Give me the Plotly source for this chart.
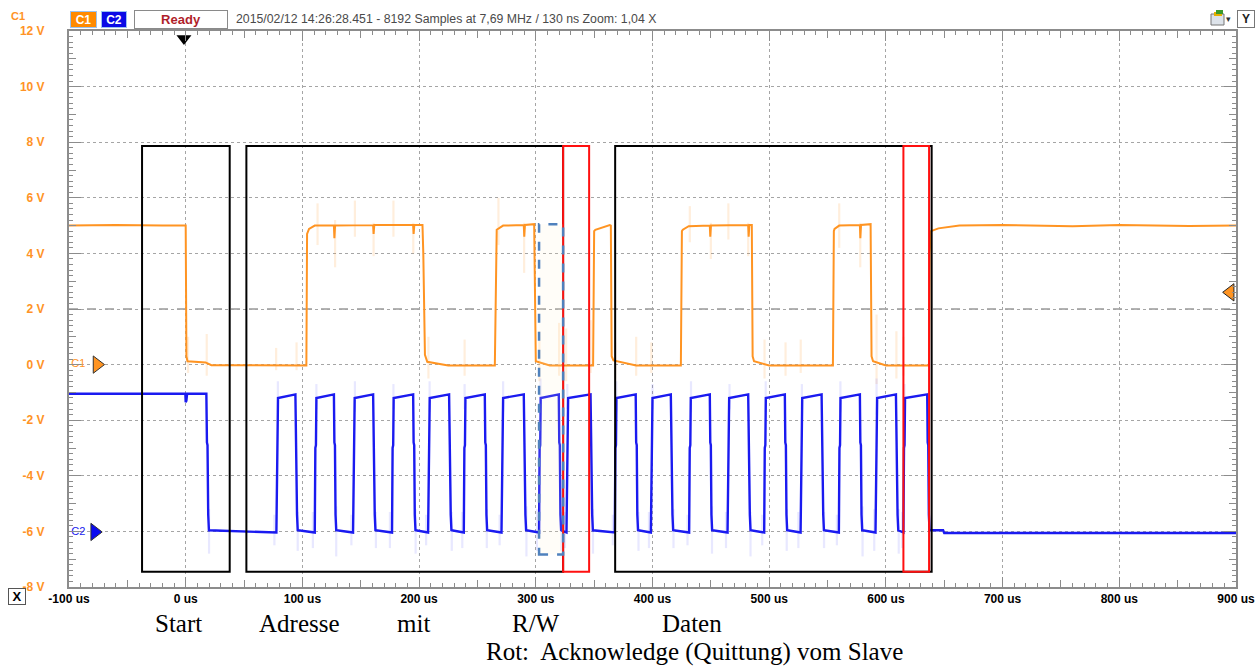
import plotly.graph_objects as go

# ---------------- data ----------------
# Channel C1 (orange, SDA) : time [us] / voltage [V]
c1_t = [-100, -60, -20, 0.0, 0.6, 1.5, 17, 22, 103.4, 104.0, 105.7, 110.6,
        127.0, 127.4, 128.0, 160.6, 161.0, 161.6, 194.9, 195.3, 195.9, 202.9,
        203.6, 205.0, 207, 225, 264.9, 265.8, 266.5, 272, 289.7, 290.1, 290.7,
        298.6, 299.2, 300, 312, 349.1, 350.0, 351, 363.4, 364.3, 365.0, 366.5,
        386, 424.3, 425.2, 426, 431, 449.1, 449.5, 450.1, 482, 482.4, 483,
        485.1, 485.8, 487, 500, 554.6, 555.4, 556, 560, 577.7, 578.1, 578.7,
        586.9, 587.7, 589, 600, 636.9, 637.5, 638.6, 645, 663, 700, 760, 800,
        860, 900]
c1_v = [5.0, 5.02, 5.0, 5.0, 0.3, 0.12, 0.08, -0.02, -0.03, 4.7, 4.88, 5.0,
        5.0, 4.55, 5.0, 5.02, 4.7, 5.02, 5.02, 4.7, 5.02, 5.02,
        4.0, 0.35, 0.1, -0.03, -0.03, 2.0, 4.85, 5.0, 5.02, 4.6, 5.02,
        5.05, 1.3, 0.12, -0.03, -0.03, 4.8, 4.85, 5.02, 5.0, 0.3, 0.15,
        -0.03, -0.03, 4.8, 4.85, 4.98, 5.0, 4.6, 5.0, 5.02, 4.6, 5.02,
        5.02, 0.3, 0.12, -0.03, -0.03, 4.8, 4.88, 5.0, 5.02, 4.55, 5.02,
        5.05, 0.3, 0.12, -0.03, -0.03, 4.0, 4.8, 4.9, 5.0, 5.02, 4.98, 5.02,
        4.99, 5.0]

# faint glitches on C1: time, lowest, highest
c1_gl_t = [2, 18, 77.5, 95, 113, 128, 145, 161, 178, 195, 208, 239, 268, 290,
           303, 320, 326, 347, 368, 386, 399, 432, 450, 465, 482, 496, 514,
           527, 560, 578, 592, 609, 615]
c1_gl_lo = [-0.3, -0.4, -0.2, -0.2, 4.3, 3.5, 4.6, 3.9, 4.6, 4.0, -0.5, -0.4,
            4.3, 3.3, -0.6, -0.4, -0.6, -0.3, -0.5, -0.4, -0.3, 4.4, 3.8, 4.5,
            3.9, -0.5, -0.4, -0.3, 4.2, 3.5, -0.7, -0.5, -0.4]
c1_gl_hi = [1.0, 1.1, 0.6, 0.8, 5.8, 5.2, 5.9, 5.1, 5.9, 5.1, 1.0, 0.9,
            6.0, 5.1, 1.2, 1.5, 1.3, 1.6, 0.8, 1.0, 0.8, 5.7, 5.1, 5.8,
            5.1, 0.9, 0.8, 0.9, 5.8, 5.1, 1.8, 1.2, 1.0]

# Channel C2 (blue, SCL): edge times [us]
c2_rise = [77.7, 110.6, 143.4, 176.8, 207.7, 238.3, 270.6, 302.8, 326.3,
           367.7, 398.6, 431.4, 464.3, 495.7, 526.9, 559.7, 591.1, 615.0]
c2_fall = [94.0, 127.0, 160.6, 194.9, 225.7, 256.3, 289.7, 319.7, 346.9,
           385.6, 415.7, 449.1, 482.0, 513.4, 544.9, 577.7, 608.6, 635.4]
c2_first_fall = 17.7
c2_idle_high = -1.05
c2_high_start = -1.2
c2_high_end = -1.07
c2_low_start = -5.96
c2_low_end = -6.04

# faint glitches on C2
c2_gl_t = [20, 96, 129, 163, 197, 228, 258, 292, 322, 349, 388, 418, 451, 484,
           515, 547, 580, 611, 637, 76, 109, 142, 175, 206, 237, 269, 301, 325,
           366, 397, 430, 463, 494, 525, 558, 590, 614,
           79, 112, 145, 178, 209, 239, 272, 304, 327, 369, 400, 433, 466, 497,
           528, 561, 592, 616]
c2_gl_lo = [-6.8, -6.7, -6.9, -6.6, -6.8, -6.7, -6.6, -6.9, -6.7, -6.8, -6.7,
            -6.6, -6.8, -6.9, -6.7, -6.6, -6.9, -6.8, -6.6, -6.5, -6.6, -6.5,
            -6.6, -6.5, -6.6, -6.5, -6.7, -6.6, -6.5, -6.6, -6.5, -6.6, -6.5,
            -6.6, -6.5, -6.7, -6.6,
            -1.7, -1.6, -1.7, -1.6, -1.7, -1.6, -1.7, -1.8, -1.6, -1.7, -1.6,
            -1.7, -1.6, -1.7, -1.6, -1.7, -1.8, -1.6]
c2_gl_hi = [-5.2, -5.3, -5.1, -5.3, -5.2, -5.3, -5.2, -5.1, -5.3, -5.2, -5.3,
            -5.2, -5.1, -5.3, -5.2, -5.3, -5.1, -5.2, -5.4, -5.4, -5.3, -5.4,
            -5.3, -5.4, -5.3, -5.4, -5.2, -5.3, -5.4, -5.3, -5.4, -5.3, -5.4,
            -5.3, -5.4, -5.2, -5.3,
            -0.6, -0.7, -0.6, -0.7, -0.6, -0.7, -0.6, -0.5, -0.7, -0.6, -0.7,
            -0.6, -0.7, -0.6, -0.7, -0.6, -0.5, -0.7]

# axis ticks
x_ticks = [-100, 0, 100, 200, 300, 400, 500, 600, 700, 800, 900]
x_labels = ["-100 us", "0 us", "100 us", "200 us", "300 us", "400 us",
            "500 us", "600 us", "700 us", "800 us", "900 us"]
y_ticks = [-8, -6, -4, -2, 0, 2, 4, 6, 8, 10, 12]
y_labels = ["-8 V", "-6 V", "-4 V", "-2 V", "0 V", "2 V", "4 V", "6 V",
            "8 V", "10 V", "12 V"]

# annotation boxes (us, V)
box_x0 = [-37.4, 52.0, 368.0, 323.4, 615.0]
box_x1 = [37.7, 323.4, 639.2, 345.7, 637.0]
box_col = ["black", "black", "black", "#FF1010", "#FF1010"]
box_y0, box_y1 = -7.45, 7.86
rw_box = [302.8, 323.4, -6.83, 5.05]

labels_row1 = ["Start", "Adresse", "mit", "R/W", "Daten"]
labels_row1_px = [178, 299.5, 413, 535.5, 692]
label_row2 = "Rot:  Acknowledge (Quittung) vom Slave"

# ---------------- build C2 waveform vertices from edges ----------------
c2_t = [-100, -0.3, 0.0, 0.6, 1.2, c2_first_fall,
        c2_first_fall + 0.5, c2_first_fall + 1.0, c2_first_fall + 1.6,
        c2_first_fall + 2.2]
c2_v = [c2_idle_high, c2_idle_high, -1.35, -1.3, c2_idle_high, c2_idle_high,
        -2.8, -2.9, -5.4, c2_low_start]
for r, f in zip(c2_rise, c2_fall):
    c2_t += [r, r + 0.5, r + 1.0, r + 1.4, f, f + 0.4, f + 0.9, f + 1.4, f + 2.0]
    c2_v += [c2_low_end, -3.0, -2.9, c2_high_start, c2_high_end, -2.8, -2.9,
             -5.4, c2_low_start]
c2_t += [649, 650, 900]
c2_v += [c2_low_start, -6.06, -6.06]


def seg(ts, lo, hi):
    xs, ys = [], []
    for t, a, b in zip(ts, lo, hi):
        xs += [t, t, None]
        ys += [a, b, None]
    return xs, ys


ORANGE = "#FF9422"
BLUE = "#1A1AF0"
LABEL_OR = "#FF9326"

fig = go.Figure()

gx, gy = seg(c1_gl_t, c1_gl_lo, c1_gl_hi)
fig.add_trace(go.Scatter(x=gx, y=gy, mode="lines",
                         line=dict(color="rgba(255,160,60,0.18)", width=2.2),
                         hoverinfo="skip", showlegend=False))
gx, gy = seg(c2_gl_t, c2_gl_lo, c2_gl_hi)
fig.add_trace(go.Scatter(x=gx, y=gy, mode="lines",
                         line=dict(color="rgba(110,110,255,0.16)", width=2.2),
                         hoverinfo="skip", showlegend=False))

fig.add_trace(go.Scatter(x=c1_t, y=c1_v, mode="lines",
                         line=dict(color=ORANGE, width=2), showlegend=False))
fig.add_trace(go.Scatter(x=c2_t, y=c2_v, mode="lines",
                         line=dict(color=BLUE, width=2.4), showlegend=False))

# channel / trigger markers
fig.add_trace(go.Scatter(x=[-76], y=[0], mode="markers",
                         marker=dict(symbol="triangle-right", size=15, color=ORANGE,
                                     line=dict(color="#333", width=1)),
                         cliponaxis=False, showlegend=False))
fig.add_trace(go.Scatter(x=[-78], y=[-6.02], mode="markers",
                         marker=dict(symbol="triangle-right", size=15, color="#0A0AF0",
                                     line=dict(color="#333", width=1)),
                         cliponaxis=False, showlegend=False))
fig.add_trace(go.Scatter(x=[895], y=[2.6], mode="markers",
                         marker=dict(symbol="triangle-left", size=15, color=ORANGE,
                                     line=dict(color="#222", width=1)),
                         cliponaxis=False, showlegend=False))
fig.add_trace(go.Scatter(x=[-1.5], y=[11.73], mode="markers",
                         marker=dict(symbol="triangle-down", size=13, color="black"),
                         cliponaxis=False, showlegend=False))
fig.add_trace(go.Scatter(x=[-92, -92], y=[0, -6.02], mode="text",
                         text=["C1", "C2"],
                         textfont=dict(color=[LABEL_OR, BLUE], size=11,
                                       family="Liberation Sans"),
                         cliponaxis=False, showlegend=False))
# dummy trace for overlay (medium tick) axes
fig.add_trace(go.Scatter(x=[None], y=[None], xaxis="x2", yaxis="y2",
                         showlegend=False, hoverinfo="skip"))

shapes = []
shapes.append(dict(type="line", xref="x", yref="y", x0=-100, x1=900, y0=2, y1=2,
                   line=dict(color="#666", width=1, dash="dash"), layer="below"))
for x0, x1, c in zip(box_x0, box_x1, box_col):
    shapes.append(dict(type="rect", xref="x", yref="y", x0=x0, x1=x1,
                       y0=box_y0, y1=box_y1, line=dict(color=c, width=2),
                       layer="above"))
shapes.append(dict(type="rect", xref="x", yref="y", x0=rw_box[0], x1=rw_box[1],
                   y0=rw_box[2], y1=rw_box[3],
                   line=dict(color="#4F81BD", width=2.5, dash="dash"),
                   fillcolor="rgba(255,240,200,0.12)", layer="above"))

W, H = 1257, 668
L, R, T, B = 69, 21, 31, 81
pw, ph = W - L - R, H - T - B


def px(xp):
    return (xp - L) / pw


def py(yp):
    return (H - B - yp) / ph


# small icon top right
shapes.append(dict(type="rect", xref="paper", yref="paper", x0=px(1211), x1=px(1224),
                   y0=py(25), y1=py(14), line=dict(color="#777", width=1),
                   fillcolor="#DDE3EA"))
shapes.append(dict(type="rect", xref="paper", yref="paper", x0=px(1214), x1=px(1222),
                   y0=py(16), y1=py(12), line=dict(width=0), fillcolor="#E5B000"))
shapes.append(dict(type="rect", xref="paper", yref="paper", x0=px(1216), x1=px(1223),
                   y0=py(14), y1=py(10), line=dict(width=0), fillcolor="#3A9A2A"))


def ann(xp, yp, text, xanchor="center", **kw):
    d = dict(xref="paper", yref="paper", x=px(xp), y=py(yp), text=text,
             showarrow=False, xanchor=xanchor, yanchor="middle")
    d.update(kw)
    return d


annotations = [
    ann(18, 16, "<b>C1</b>", font=dict(color=LABEL_OR, size=11,
                                      family="Liberation Sans")),
    ann(83.5, 19.5, "<b>C1</b>", width=25, height=15, bgcolor="#FF8A00",
        bordercolor="#9CC3F0", borderwidth=1, borderpad=0,
        font=dict(color="white", size=12, family="Liberation Sans")),
    ann(114, 19.5, "<b>C2</b>", width=24, height=15, bgcolor="#0A0AE6",
        bordercolor="#9CC3F0", borderwidth=1, borderpad=0,
        font=dict(color="white", size=12, family="Liberation Sans")),
    ann(181, 19.5, "<b>Ready</b>", width=92, height=17, bgcolor="white",
        bordercolor="#8A8A8A", borderwidth=1, borderpad=0,
        font=dict(color="#B01E2A", size=13, family="Liberation Sans")),
    ann(234, 18.5,
        "2015/02/12 14:26:28.451 - 8192 Samples at 7,69 MHz / 130 ns Zoom: 1,04 X",
        xanchor="left", font=dict(color="#4A4A4A", size=12.3,
                                  family="Liberation Sans")),
    ann(1246, 19, "<b>Y</b>", width=16, height=16, bgcolor="white",
        bordercolor="#777", borderwidth=1, borderpad=0,
        font=dict(color="#222", size=12, family="Liberation Sans")),
    ann(1228, 19, "▾", font=dict(color="#333", size=9)),
    ann(17, 596.5, "<b>X</b>", width=16, height=15, bgcolor="white",
        bordercolor="#555", borderwidth=1, borderpad=0,
        font=dict(color="black", size=13, family="Liberation Sans")),
]
for lab, xp in zip(labels_row1, labels_row1_px):
    annotations.append(ann(xp, 623, lab, font=dict(color="black", size=25,
                                                   family="Liberation Serif")))
annotations.append(ann(694, 652, label_row2, font=dict(color="black", size=25,
                                                       family="Liberation Serif")))

AX = "#8C8C8C"
fig.update_layout(
    width=W, height=H, margin=dict(l=L, r=R, t=T, b=B, autoexpand=False),
    paper_bgcolor="white", plot_bgcolor="white", showlegend=False,
    shapes=shapes, annotations=annotations,
    xaxis=dict(range=[-100, 900], tickmode="array", tickvals=x_ticks,
               ticktext=x_labels, ticks="inside", ticklen=10, tickcolor=AX,
               tickwidth=1, showgrid=True, gridcolor="#A5A5A5", griddash="dot",
               gridwidth=1, showline=True, linecolor=AX, linewidth=2,
               mirror="allticks", zeroline=False, automargin=False,
               minor=dict(dtick=10, tick0=0, ticks="inside", ticklen=4,
                          tickcolor=AX, showgrid=False),
               tickfont=dict(family="Liberation Sans", size=12, color="black",
                             weight="bold")),
    yaxis=dict(range=[-8, 12], tickmode="array", tickvals=y_ticks,
               ticktext=y_labels, ticks="inside", ticklen=12, tickcolor=AX,
               tickwidth=1, showgrid=True, gridcolor="#A5A5A5", griddash="dot",
               gridwidth=1, showline=True, linecolor=AX, linewidth=2,
               mirror="allticks", zeroline=False, ticklabelstandoff=20,
               automargin=False,
               minor=dict(dtick=0.2, tick0=0, ticks="inside", ticklen=4,
                          tickcolor=AX, showgrid=False),
               tickfont=dict(family="Liberation Sans", size=12, color=LABEL_OR,
                             weight="bold")),
    xaxis2=dict(overlaying="x", anchor="y2", range=[-100, 900], tickmode="linear",
                tick0=0, dtick=50, ticks="inside", ticklen=7, tickcolor=AX,
                showticklabels=False, showgrid=False, showline=False,
                zeroline=False, mirror="ticks", automargin=False),
    yaxis2=dict(overlaying="y", anchor="x2", range=[-8, 12], tickmode="linear",
                tick0=0, dtick=1, ticks="inside", ticklen=7, tickcolor=AX,
                showticklabels=False, showgrid=False, showline=False,
                zeroline=False, mirror="ticks", automargin=False),
)

fig.write_html("out.html", config={"displayModeBar": False},
               post_script="document.body.style.margin='0px';"
                           "document.body.style.overflow='hidden';")
